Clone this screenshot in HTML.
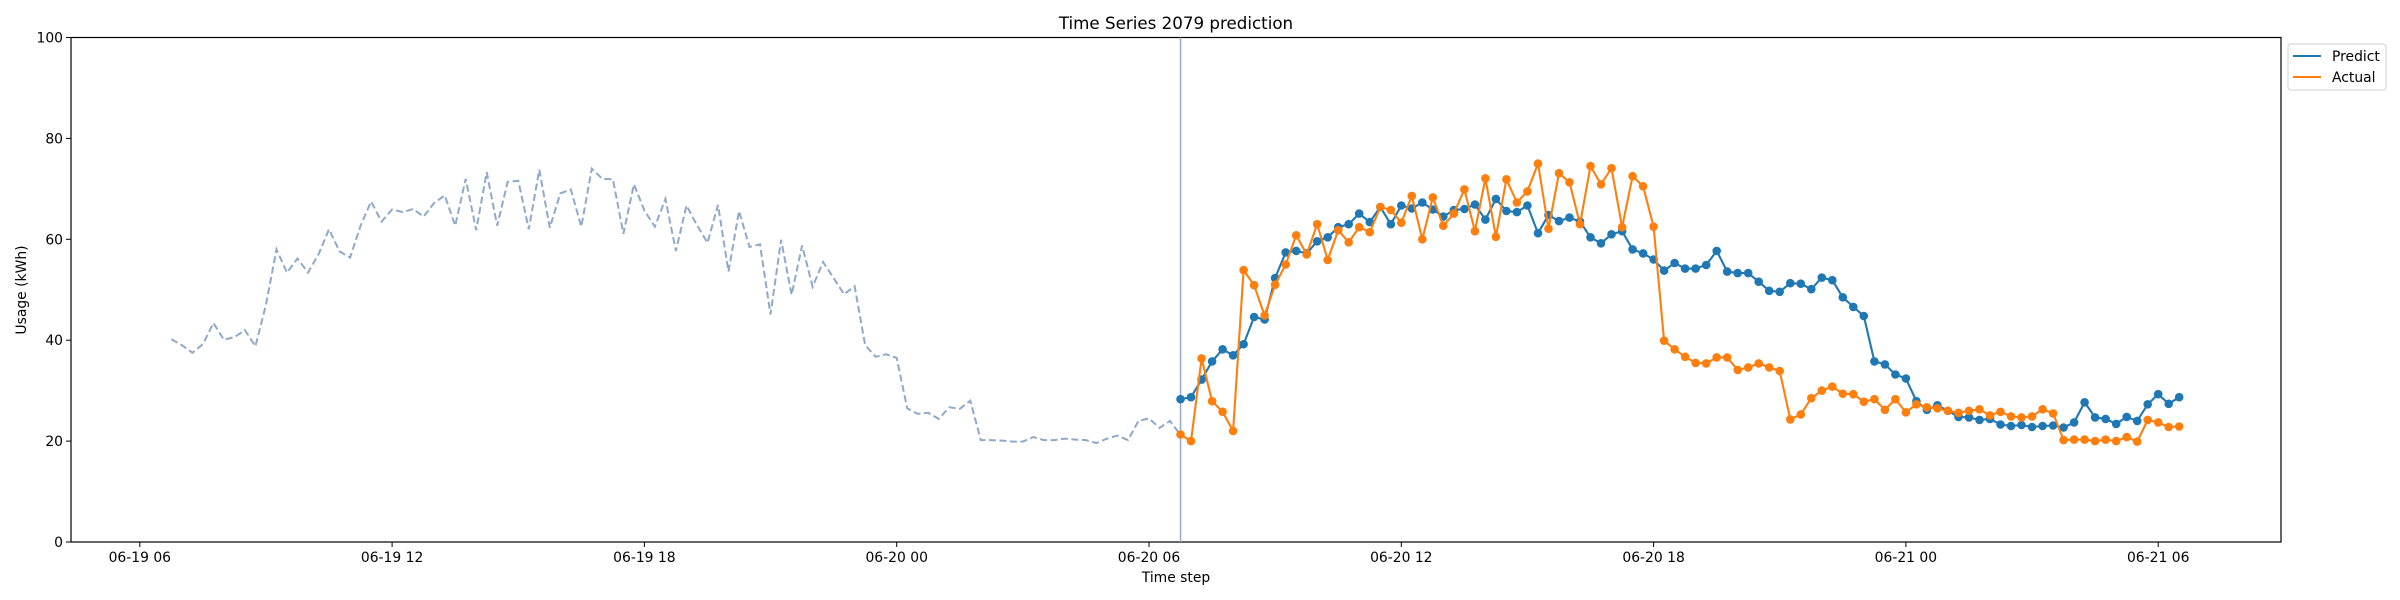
<!DOCTYPE html>
<html><head><meta charset="utf-8"><style>
html,body{margin:0;padding:0;background:#fff;}
svg{display:block;font-family:"DejaVu Sans","Liberation Sans",sans-serif;}
</style></head><body>
<svg id="chart" width="2400" height="600" viewBox="0 0 2400 600" xmlns="http://www.w3.org/2000/svg">
<rect x="0" y="0" width="2400" height="600" fill="#fff"/>
<text x="1176" y="29" font-size="16.7" text-anchor="middle" fill="#000">Time Series 2079 prediction</text>
<g id="plot"></g>
<text x="1176" y="582" font-size="13.9" text-anchor="middle">Time step</text>
<text transform="translate(26,290) rotate(-90)" font-size="13.9" text-anchor="middle">Usage (kWh)</text>
<g>
<rect x="2288" y="44" width="98" height="46" rx="3" fill="#fff" stroke="#d0d0d0" stroke-width="1"/>
<line x1="2293" y1="56" x2="2321" y2="56" stroke="#1f77b4" stroke-width="2.1"/>
<text x="2332" y="61" font-size="13.9">Predict</text>
<line x1="2293" y1="77" x2="2321" y2="77" stroke="#ff7f0e" stroke-width="2.1"/>
<text x="2332" y="82" font-size="13.9">Actual</text>
</g>
</svg>
<script>
const history = [40.2,39,37.5,39.2,43.4,40.1,40.6,42,38.8,47,58,53.4,56.2,53.4,57,62,57.6,56.4,62.7,67.5,63.5,65.9,65.4,66,64.5,67.2,68.7,62.7,72,61.8,73.3,62.7,71.4,71.6,62,73.8,62.3,69.1,69.9,62.5,74,72,71.9,61.1,70.9,65.7,62.5,68,57.7,66.7,62.8,59.3,66.8,53.6,65.6,58.5,59,45.1,59.9,49,58.8,50.6,55.5,52.3,49.1,50.7,39,36.7,37.2,36.5,26.5,25.4,25.6,24.4,26.7,26.4,28,20.2,20.2,20.1,19.9,19.9,20.8,20.2,20.2,20.5,20.3,20.2,19.6,20.5,21.1,20.2,24,24.5,22.6,24,21.2];
const predict = [28.3,28.7,32.2,35.8,38.2,37.0,39.2,44.6,44.1,52.3,57.4,57.7,57.2,59.6,60.4,62.4,63.0,65.1,63.4,66.4,63.0,66.7,66.1,67.3,65.9,64.5,65.8,66.0,66.9,63.9,68.0,65.6,65.4,66.7,61.2,64.8,63.6,64.3,63.5,60.4,59.2,61.0,61.6,58.0,57.2,56.0,53.8,55.3,54.2,54.2,54.9,57.7,53.6,53.3,53.3,51.6,49.8,49.6,51.3,51.2,50.1,52.4,51.9,48.5,46.6,44.8,35.8,35.2,33.2,32.4,27.9,26.2,27.1,26.0,24.8,24.7,24.2,24.4,23.3,23.0,23.2,22.8,23.0,23.1,22.7,23.7,27.7,24.7,24.4,23.4,24.8,24.0,27.3,29.3,27.4,28.7];
const actual = [21.3,20.0,36.4,27.9,25.8,22.0,53.9,50.9,44.9,51.0,55.0,60.8,57.0,63.0,55.9,61.8,59.4,62.4,61.4,66.4,65.8,63.3,68.6,60.0,68.3,62.7,65.1,69.9,61.6,72.1,60.5,71.9,67.3,69.5,75.0,62.1,73.1,71.3,63.0,74.5,70.9,74.1,62.4,72.5,70.5,62.5,39.9,38.2,36.7,35.5,35.4,36.6,36.6,34.1,34.6,35.4,34.6,33.9,24.3,25.3,28.5,30.0,30.8,29.4,29.3,27.8,28.3,26.2,28.3,25.7,27.3,26.7,26.5,26.0,25.6,26.0,26.3,25.1,25.8,24.9,24.7,24.9,26.3,25.5,20.2,20.3,20.3,20.0,20.3,20.0,20.8,19.9,24.2,23.7,22.8,22.9];
const yTicks = [0,20,40,60,80,100];
const xTickLabels = ["06-19 06","06-19 12","06-19 18","06-20 00","06-20 06","06-20 12","06-20 18","06-21 00","06-21 06"];
const historyStartHour = 0.75;   // hours after 06-19 06:00
const forecastStartHour = 24.75; // hours after 06-19 06:00
const stepHours = 0.25;

const NS = "http://www.w3.org/2000/svg";
const L = 71, R = 2281, T = 37.5, B = 542;
const xOfHour = h => 139.8 + 42.05 * h;
const yOf = v => B - (v / 100) * (B - T);
const plot = document.getElementById('plot');
function mk(tag, attrs) {
  const e = document.createElementNS(NS, tag);
  for (const k in attrs) e.setAttribute(k, attrs[k]);
  plot.appendChild(e);
  return e;
}
// axes frame
const frame = mk('rect', {x: L, y: T, width: R - L, height: B - T, fill: 'none', stroke: '#000', 'stroke-width': 1.2});


// y ticks
yTicks.forEach(v => {
  const y = yOf(v);
  const t = mk('line', {x1: L - 5, y1: y, x2: L, y2: y, stroke: '#000', 'stroke-width': 1});
  
  
  const lb = mk('text', {x: L - 8, y: y + 5, 'font-size': 13.9, 'text-anchor': 'end'});
  lb.textContent = v;
  
  
});
// x ticks
xTickLabels.forEach((s, i) => {
  const x = xOfHour(i * 6);
  const t = mk('line', {x1: x, y1: B, x2: x, y2: B + 5, stroke: '#000', 'stroke-width': 1});
  
  
  const lb = mk('text', {x: x, y: B + 20, 'font-size': 13.9, 'text-anchor': 'middle'});
  lb.textContent = s;
  
  
});
// history dashed
const hp = history.map((v, i) => xOfHour(historyStartHour + i * stepHours).toFixed(1) + ',' + yOf(v).toFixed(1)).join(' ');
const hl = mk('polyline', {points: hp, fill: 'none', stroke: '#8fa9c9', 'stroke-width': 2, 'stroke-dasharray': '7,3.5'});


// forecast start line
const fx = xOfHour(forecastStartHour);
const vl = mk('line', {x1: fx, y1: T, x2: fx, y2: B, stroke: '#9aa8cf', 'stroke-width': 1.5});


function series(arr, color, name) {
  const pts = arr.map((v, i) => [xOfHour(forecastStartHour + i * stepHours), yOf(v)]);
  const pl = mk('polyline', {points: pts.map(p => p[0].toFixed(1) + ',' + p[1].toFixed(1)).join(' '), fill: 'none', stroke: color, 'stroke-width': 2.1});
  
  
  pts.forEach(p => {
    const c = mk('circle', {cx: p[0].toFixed(1), cy: p[1].toFixed(1), r: 4.3, fill: color});
    
    
  });
}
series(predict, '#1f77b4', 'predict');
series(actual, '#ff7f0e', 'actual');
</script>
</body></html>
